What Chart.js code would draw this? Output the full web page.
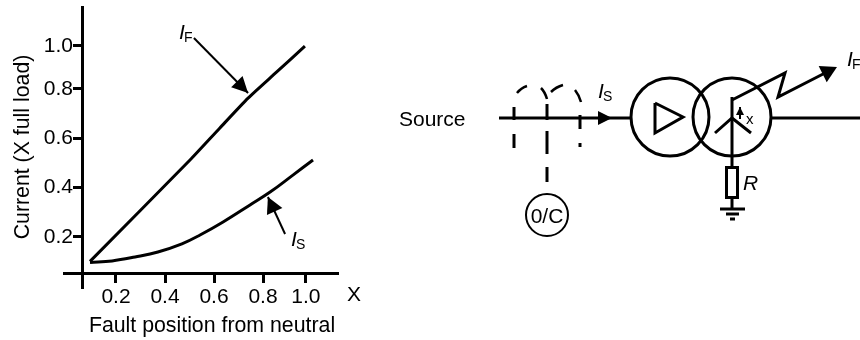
<!DOCTYPE html>
<html>
<head>
<meta charset="utf-8">
<title>Fault current</title>
<script src="https://cdn.jsdelivr.net/npm/chart.js@4"></script>
<style>
  html, body { margin: 0; background: #fff; }
  canvas { display: block; }
</style>
</head>
<body>
<canvas id="canvas" width="860" height="340"></canvas>
<script>
var FONT = '"Liberation Sans", Arial, sans-serif';

// in axis units. the "1.0" ticks sit a bit short of 1 in the original
var xTickValues = [0.2, 0.4, 0.6, 0.8, 0.975];
var yTickValues = [0.2, 0.4, 0.6, 0.8, 0.975];
var tickLabels = ['0.2', '0.4', '0.6', '0.8', '1.0'];

var faultX = [0.094, 0.502, 0.624, 0.739, 0.856, 0.971];
var faultY = [0.101, 0.512, 0.642, 0.763, 0.869, 0.974];

var sourceX = [0.094, 0.184, 0.278, 0.371, 0.469, 0.543, 0.637, 0.747, 0.829, 0.922, 1.004];
var sourceY = [0.097, 0.103, 0.119, 0.139, 0.172, 0.208, 0.261, 0.330, 0.382, 0.451, 0.512];

function toPoints(xs, ys) {
  return xs.map(function (x, i) { return { x: x, y: ys[i] }; });
}

function line(c, pts, width) {
  c.lineWidth = width;
  c.beginPath();
  pts.forEach(function (p, i) {
    if (i === 0) c.moveTo(p[0], p[1]);
    else c.lineTo(p[0], p[1]);
  });
  c.stroke();
}

function head(c, from, to, len, half) {
  var a = Math.atan2(to[1] - from[1], to[0] - from[0]);
  var bx = to[0] - len * Math.cos(a);
  var by = to[1] - len * Math.sin(a);
  c.beginPath();
  c.moveTo(to[0], to[1]);
  c.lineTo(bx - half * Math.sin(a), by + half * Math.cos(a));
  c.lineTo(bx + half * Math.sin(a), by - half * Math.cos(a));
  c.closePath();
  c.fill();
}

function arrow(c, from, to, width, len, half) {
  line(c, [from, to], width);
  head(c, from, to, len, half);
}

function text(c, s, x, y, font, align) {
  c.font = font;
  c.textAlign = align || 'left';
  c.textBaseline = 'alphabetic';
  c.fillText(s, x, y);
}

// I with a subscript letter
function current(c, sub, x, y) {
  text(c, 'I', x, y, 'italic 21px ' + FONT);
  text(c, sub, x + 5, y + 3, '14px ' + FONT);
}

function circle(c, x, y, r, width) {
  c.lineWidth = width;
  c.beginPath();
  c.arc(x, y, r, 0, Math.PI * 2);
  c.stroke();
}

function curve(c, x1, y1, cx, cy, x2, y2) {
  c.lineWidth = 2.5;
  c.beginPath();
  c.moveTo(x1, y1);
  c.quadraticCurveTo(cx, cy, x2, y2);
  c.stroke();
}

// tick labels run past the last ticks, don't let that shrink the plot
function noMargins(scale) {
  scale.paddingTop = 0;
  scale.paddingBottom = 0;
  scale.paddingLeft = 0;
  scale.paddingRight = 0;
}

var notes = {
  id: 'notes',
  afterDraw: function (chart) {
    var c = chart.ctx;
    var sx = chart.scales.x, sy = chart.scales.y;
    function at(x, y) { return [sx.getPixelForValue(x), sy.getPixelForValue(y)]; }

    c.save();
    c.fillStyle = '#000';
    c.strokeStyle = '#000';

    // graph callouts
    arrow(c, at(0.518, 1.007), at(0.739, 0.784), 2, 16, 8);
    arrow(c, at(0.89, 0.212), at(0.82, 0.362), 2, 16, 8.5);
    var f = at(0.457, 1.003), s = at(0.914, 0.164);
    current(c, 'F', f[0], f[1]);
    current(c, 'S', s[0], s[1]);
    text(c, 'X', 347, 301, '21px ' + FONT);

    // axis titles
    text(c, 'Fault position from neutral', 212, 332, '21.3px ' + FONT, 'center');
    c.save();
    c.translate(29, 147);
    c.rotate(-Math.PI / 2);
    text(c, 'Current (X full load)', 0, 0, '21.3px ' + FONT, 'center');
    c.restore();

    // schematic: source side
    text(c, 'Source', 399, 126, '21px ' + FONT);
    line(c, [[499, 118], [631, 118]], 3);
    head(c, [590, 118], [612, 118], 14, 7);
    current(c, 'S', 598, 98);

    // current transformers, dashed
    line(c, [[514, 107], [514, 120]], 3);
    line(c, [[514, 134], [514, 148]], 3);
    line(c, [[547, 104], [547, 120]], 3);
    line(c, [[547, 131], [547, 154]], 3);
    line(c, [[547, 167], [547, 182]], 3);
    line(c, [[580, 115], [580, 129]], 3);
    line(c, [[580, 143], [580, 147]], 3);
    curve(c, 517, 93, 521, 88, 527, 86);
    curve(c, 541, 88, 545, 92, 547, 99);
    curve(c, 551, 92, 556, 87, 563, 85);
    curve(c, 575, 90, 579, 95, 581, 102);
    circle(c, 547, 215, 21, 2);
    text(c, '0/C', 547, 223, '21px ' + FONT, 'center');

    // transformer
    circle(c, 670, 117, 39, 3);
    circle(c, 732, 117, 39, 3);
    line(c, [[655, 103], [655, 133], [683, 117], [655, 103]], 3);
    line(c, [[732, 97], [732, 167]], 3);
    line(c, [[715, 133], [732, 118], [751, 133]], 3);
    line(c, [[771, 118], [860, 118]], 3);
    arrow(c, [740, 119], [740, 107], 2, 8, 4);
    text(c, 'x', 746, 124, '15px ' + FONT);

    // fault
    line(c, [[732, 100], [785, 73], [778, 97], [827, 72]], 3);
    head(c, [823, 74], [837, 67], 16, 9);
    current(c, 'F', 847, 66);

    // neutral resistor and earth
    c.lineWidth = 3;
    c.strokeRect(726.5, 167.5, 11, 30);
    text(c, 'R', 743, 190, 'italic 21px ' + FONT);
    line(c, [[732, 197], [732, 208]], 3);
    line(c, [[720, 209], [745, 209]], 3);
    line(c, [[726, 214], [739, 214]], 3);
    line(c, [[730, 219], [735, 219]], 3);

    c.restore();
  }
};

var ctx = document.getElementById('canvas').getContext('2d');

var tickFont = { family: FONT, size: 21 };

function yAxisTicks(axis) {
  axis.ticks = yTickValues.map(function (v) { return { value: v }; });
}

new Chart(ctx, {
  type: 'line',
  data: {
    datasets: [{
      label: 'IF',
      data: toPoints(faultX, faultY),
      borderColor: '#000',
      borderWidth: 3,
      pointRadius: 0,
      tension: 0.2
    }, {
      label: 'IS',
      data: toPoints(sourceX, sourceY),
      borderColor: '#000',
      borderWidth: 3,
      pointRadius: 0,
      tension: 0.4
    }]
  },
  options: {
    responsive: false,
    animation: false,
    layout: { padding: { left: 64, right: 522, top: 7, bottom: 52 } },
    plugins: {
      legend: { display: false },
      tooltip: { enabled: false }
    },
    scales: {
      x: {
        type: 'linear',
        min: -0.0122,
        max: 1.106,
        position: { y: 0.054 },
        afterBuildTicks: function (axis) {
          axis.ticks = xTickValues.map(function (v) { return { value: v }; });
        },
        afterFit: noMargins,
        ticks: {
          color: '#000',
          font: tickFont,
          padding: 4,
          maxRotation: 0,
          autoSkip: false,
          callback: function (v, i) { return tickLabels[i]; }
        },
        grid: { drawOnChartArea: false, tickLength: 8, tickColor: '#000', tickWidth: 3 },
        border: { color: '#000', width: 3 }
      },
      y: {
        type: 'linear',
        min: -0.0068,
        max: 1.1324,
        position: { x: 0.0653 },
        afterBuildTicks: yAxisTicks,
        afterFit: noMargins,
        ticks: { display: false },
        grid: { drawOnChartArea: false, tickLength: 8, tickColor: '#000', tickWidth: 3 },
        border: { color: '#000', width: 3 }
      },
      // labels only: an axis placed by value draws them right on its line, so they get their own
      yLabels: {
        axis: 'y',
        type: 'linear',
        min: -0.0068,
        max: 1.1324,
        position: { x: 0.0245 },
        afterBuildTicks: yAxisTicks,
        afterFit: noMargins,
        ticks: {
          color: '#000',
          font: tickFont,
          autoSkip: false,
          callback: function (v, i) { return tickLabels[i]; }
        },
        grid: { display: false },
        border: { display: false }
      }
    }
  },
  plugins: [notes]
});
</script>
</body>
</html>
